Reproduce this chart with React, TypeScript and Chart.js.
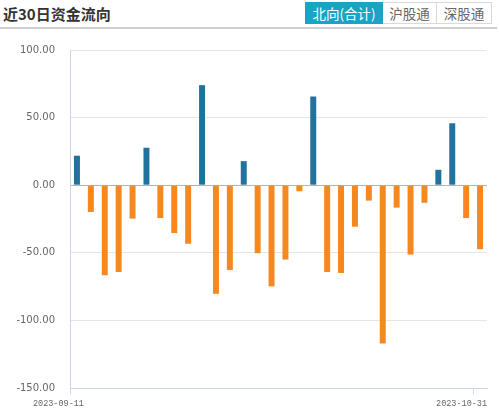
import React, { useEffect, useRef } from "react";
import { Chart, registerables } from "chart.js";

Chart.register(...registerables);

const dates = [
  "2023-09-11", "2023-09-12", "2023-09-13", "2023-09-14", "2023-09-15",
  "2023-09-18", "2023-09-19", "2023-09-20", "2023-09-21", "2023-09-22",
  "2023-09-25", "2023-09-26", "2023-09-27", "2023-09-28", "2023-10-09",
  "2023-10-10", "2023-10-11", "2023-10-12", "2023-10-13", "2023-10-16",
  "2023-10-17", "2023-10-18", "2023-10-19", "2023-10-20", "2023-10-24",
  "2023-10-25", "2023-10-26", "2023-10-27", "2023-10-30", "2023-10-31",
];

const netFlow = [
  21.8, -19.8, -66.6, -64.2, -24.7, 27.7, -24.3, -35.4, -43.3, 74.0,
  -80.3, -62.7, 17.8, -50.3, -74.8, -55.0, -4.5, 65.6, -64.2, -64.9,
  -30.7, -11.4, -117.0, -16.6, -51.3, -13.0, 11.4, 45.8, -24.3, -47.3,
];

const yMin = -150;
const yMax = 100;
const yStep = 50;

const tabs = ["北向(合计)", "沪股通", "深股通"];
const title = "近30日资金流向";

const POS = "#21729f";
const NEG = "#f5881f";

export default function App() {
  const ref = useRef<HTMLCanvasElement | null>(null);

  useEffect(() => {
    document.body.style.margin = "0";
    if (!ref.current) return;
    const last = dates.length - 1;
    const chart = new Chart(ref.current, {
      type: "bar",
      data: {
        labels: dates,
        datasets: [
          {
            data: netFlow,
            backgroundColor: (c: any) => ((c.raw as number) >= 0 ? POS : NEG),
            barPercentage: 0.43,
            categoryPercentage: 1,
          },
        ],
      },
      options: {
        animation: false,
        responsive: true,
        maintainAspectRatio: false,
        layout: { padding: { top: 21, right: 12, left: 0, bottom: 0 } },
        plugins: { legend: { display: false }, tooltip: { enabled: false } },
        scales: {
          x: {
            afterFit: (s: any) => {
              s.height = 22;
            },
            border: { color: "#ccd6eb", width: 1 },
            grid: {
              drawOnChartArea: false,
              drawTicks: true,
              tickLength: 6,
              tickColor: (c: any) =>
                c.index === 0 || c.index === last ? "#ccd6eb" : "rgba(0,0,0,0)",
            },
            ticks: {
              autoSkip: false,
              maxRotation: 0,
              minRotation: 0,
              align: "end",
              labelOffset: 7,
              padding: 5,
              color: "#666",
              font: { family: "Liberation Mono", size: 8.5 },
              callback: (_v: any, i: number) =>
                i === 0 || i === last ? dates[i] : "",
            },
          },
          y: {
            min: yMin,
            max: yMax,
            afterFit: (s: any) => {
              s.width = 70;
            },
            border: { color: "#ccd6eb", width: 1 },
            grid: {
              drawTicks: false,
              color: (c: any) => {
                const v = c.tick ? c.tick.value : null;
                if (v === 0) return "#b4b4b4";
                if (v === yMin) return "#ccd6eb";
                return "#e6e6e6";
              },
            },
            ticks: {
              stepSize: yStep,
              padding: 15,
              color: "#666",
              font: { family: "DejaVu Sans", size: 10 },
              callback: (v: any) => Number(v).toFixed(2),
            },
          },
        },
      },
    });
    return () => chart.destroy();
  }, []);

  return (
    <div
      style={{
        position: "relative",
        width: 499,
        height: 410,
        background: "#fff",
        overflow: "hidden",
      }}
    >
      <div
        style={{
          position: "absolute",
          left: 3,
          top: 3,
          fontFamily: "'Noto Sans CJK SC', sans-serif",
          fontWeight: 700,
          fontSize: 15,
          lineHeight: "22px",
          color: "#333",
        }}
      >
        {title}
      </div>
      <div
        style={{
          position: "absolute",
          left: 305,
          top: 2,
          height: 22,
          display: "flex",
          fontFamily: "'Noto Sans CJK SC', sans-serif",
          fontSize: 13.5,
        }}
      >
        {tabs.map((t, i) => (
          <div
            key={t}
            style={{
              boxSizing: "border-box",
              width: i === 0 ? 78 : i === 1 ? 54 : 55,
              height: 22,
              lineHeight: "20px",
              textAlign: "center",
              border: i === 0 ? "1px solid #1aa3c4" : "1px solid #d9d9d9",
              borderLeft: i === 0 ? "1px solid #1aa3c4" : "none",
              background: i === 0 ? "#1aa3c4" : "#fff",
              color: i === 0 ? "#fff" : "#666",
            }}
          >
            {t}
          </div>
        ))}
      </div>
      <div
        style={{
          position: "absolute",
          left: 0,
          top: 27,
          width: 497,
          height: 0,
          borderTop: "2px solid #cfcfcf",
        }}
      />
      <div
        style={{
          position: "absolute",
          left: 0,
          top: 29,
          width: 499,
          height: 381,
        }}
      >
        <canvas ref={ref} />
      </div>
    </div>
  );
}
